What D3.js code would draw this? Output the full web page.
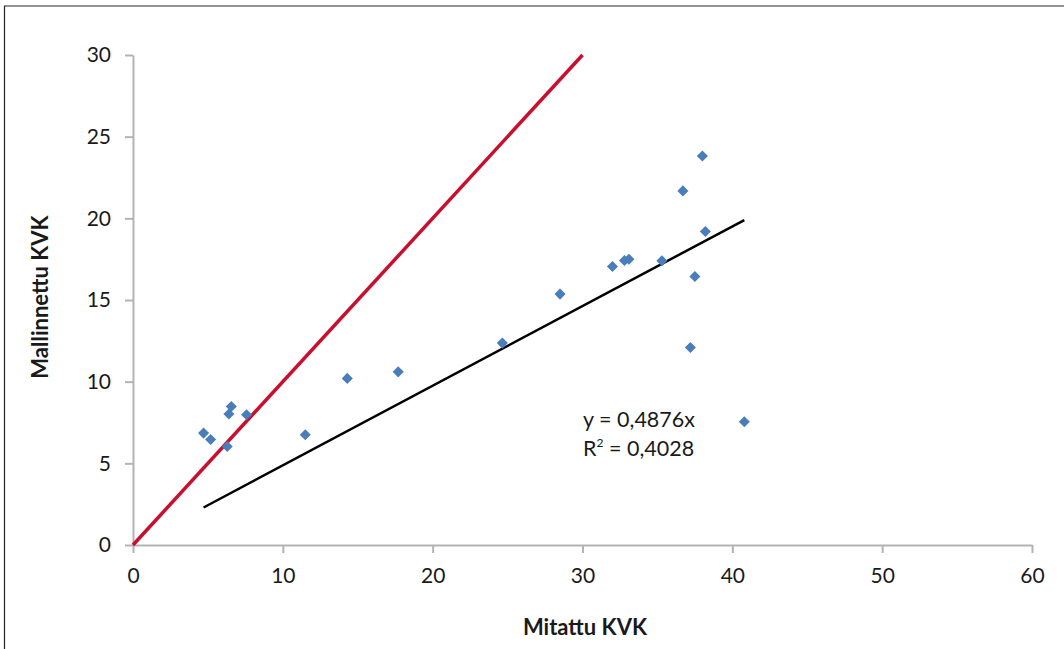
<!DOCTYPE html>
<html>
<head>
<meta charset="utf-8">
<script src="https://cdn.jsdelivr.net/npm/d3@7"></script>
<style>
  body { margin: 0; background: #fff; }
  text { font-family: Lato, "Open Sans", sans-serif; fill: #1a1a1a; }
</style>
</head>
<body>
<div id="chart"></div>
<script>
'use strict'

// Measured vs modelled KVK
const measured = [4.71, 5.18, 6.56, 6.4, 7.58, 6.29, 11.5, 14.3, 17.7, 24.65, 28.5, 32.0, 32.8, 33.1, 35.3, 36.7, 38.0, 38.2, 37.5, 37.2, 40.8]
const modelled = [6.85, 6.46, 8.48, 8.02, 7.97, 6.03, 6.75, 10.2, 10.6, 12.36, 15.36, 17.05, 17.42, 17.5, 17.4, 21.68, 23.82, 19.19, 16.44, 12.09, 7.55]
const xTicks = [0, 10, 20, 30, 40, 50, 60]
const yTicks = [0, 5, 10, 15, 20, 25, 30]
const slope = 0.4876
const rSquared = '0,4028'

const width = 1064
const height = 649
const margin = { left: 133, right: 32, top: 55, bottom: 104 }

const svg = d3.select('#chart').append('svg')
  .attr('width', width)
  .attr('height', height)

// outer frame (only top and left visible)
svg.append('line').attr('x1', 4).attr('x2', width).attr('y1', 6).attr('y2', 6)
  .attr('stroke', '#6e6e6e').attr('stroke-width', 1.5)
svg.append('line').attr('x1', 4.5).attr('x2', 4.5).attr('y1', 6).attr('y2', height)
  .attr('stroke', '#222').attr('stroke-width', 1.2)

const x = d3.scaleLinear().domain([0, 60]).range([margin.left, width - margin.right])
const y = d3.scaleLinear().domain([0, 30]).range([height - margin.bottom, margin.top])

const xAxis = svg.append('g')
  .attr('transform', 'translate(0,' + y(0) + ')')
  .call(d3.axisBottom(x).tickValues(xTicks).tickSize(8).tickPadding(15).tickSizeOuter(0))
const yAxis = svg.append('g')
  .attr('transform', 'translate(' + x(0) + ',0)')
  .call(d3.axisLeft(y).tickValues(yTicks).tickSize(8).tickPadding(14).tickSizeOuter(0))

for (const ax of [xAxis, yAxis]) {
  ax.select('.domain').attr('stroke', '#b3b3b3').attr('stroke-width', 2)
  ax.selectAll('.tick line').attr('stroke', '#b3b3b3').attr('stroke-width', 2)
  ax.selectAll('.tick text')
    .style('font-family', 'Lato, sans-serif')
    .style('font-size', '21px')
    .attr('fill', '#1a1a1a')
}

// 1:1 line
svg.append('line')
  .attr('x1', x(0)).attr('y1', y(0))
  .attr('x2', x(30)).attr('y2', y(30))
  .attr('stroke', '#c8102e').attr('stroke-width', 3.5)

// trend line through origin
const xMin = d3.min(measured)
const xMax = d3.max(measured)
svg.append('line')
  .attr('x1', x(xMin)).attr('y1', y(slope * xMin))
  .attr('x2', x(xMax)).attr('y2', y(slope * xMax))
  .attr('stroke', '#000').attr('stroke-width', 2.5)

// points
const diamond = d3.symbol().type(d3.symbolDiamond2).size(78)
svg.append('g').selectAll('path')
  .data(measured.map((d, i) => [d, modelled[i]]))
  .join('path')
  .attr('d', diamond)
  .attr('transform', d => 'translate(' + x(d[0]) + ',' + y(d[1]) + ')')
  .attr('fill', '#4a7ebb')

// equation
svg.append('text').attr('x', 583).attr('y', 427)
  .style('font-size', '21.5px').text('y = ' + String(slope).replace('.', ','))
  .append('tspan').text('x')
const r2 = svg.append('text').attr('x', 583).attr('y', 456).style('font-size', '21.5px')
r2.append('tspan').text('R')
r2.append('tspan').attr('dy', -9).style('font-size', '12px').text('2')
r2.append('tspan').attr('dy', 9).text(' = ' + rSquared)

// axis titles
svg.append('text')
  .attr('x', 585).attr('y', 635)
  .attr('text-anchor', 'middle')
  .style('font-size', '22px').style('font-weight', 'bold')
  .text('Mitattu KVK')
svg.append('text')
  .attr('transform', 'translate(48,297) rotate(-90)')
  .attr('text-anchor', 'middle')
  .style('font-size', '22px').style('font-weight', 'bold')
  .text('Mallinnettu KVK')
</script>
</body>
</html>
